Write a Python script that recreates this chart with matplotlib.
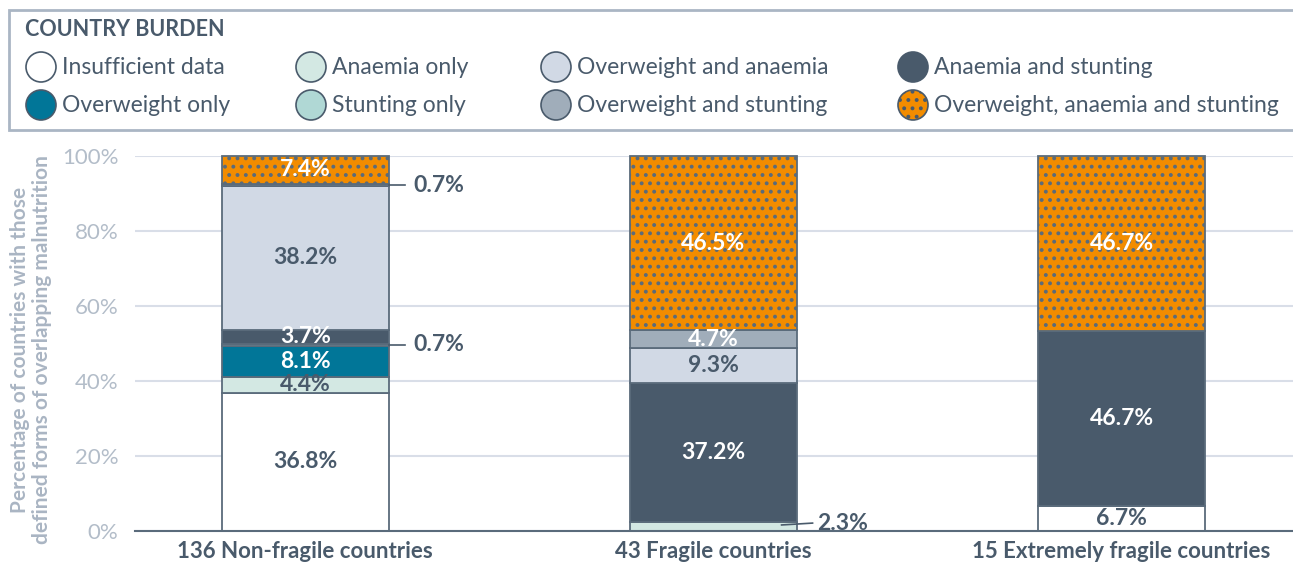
import matplotlib
matplotlib.use("Agg")
import matplotlib.pyplot as plt
from matplotlib.patches import Rectangle, Ellipse
import numpy as np

plt.rcParams['font.family'] = ['Lato', 'DejaVu Sans']
plt.rcParams['hatch.linewidth'] = 1.6

# data (percent of countries)
groups = ["136 Non-fragile countries", "43 Fragile countries", "15 Extremely fragile countries"]
categories = ["Insufficient data", "Anaemia only", "Overweight only", "Stunting only",
              "Anaemia and stunting", "Overweight and anaemia", "Overweight and stunting",
              "Overweight, anaemia and stunting"]
insufficient = [36.8, 0.0, 6.7]
anaemia_only = [4.4, 2.3, 0.0]
overweight_only = [8.1, 0.0, 0.0]
stunting_only = [0.7, 0.0, 0.0]
anaemia_stunting = [3.7, 37.2, 46.7]
overweight_anaemia = [38.2, 9.3, 0.0]
overweight_stunting = [0.7, 4.7, 0.0]
all_three = [7.4, 46.5, 46.7]

series = [insufficient, anaemia_only, overweight_only, stunting_only,
          anaemia_stunting, overweight_anaemia, overweight_stunting, all_three]
colors = ["#ffffff", "#d3e8e3", "#017698", "#b0d8d5",
          "#495a6b", "#d1d9e5", "#a0adba", "#f28c00"]
label_colors = ["#495a6b", "#495a6b", "#ffffff", "#495a6b",
                "#ffffff", "#495a6b", "#ffffff", "#ffffff"]

DARK = "#495a6b"
EDGE = "#5a6b7b"

fig = plt.figure(figsize=(12.93, 5.64), dpi=100)

# legend panel in pixel coordinates
lg = fig.add_axes([0, 0, 1, 1], zorder=0)
lg.set_xlim(0, 1293)
lg.set_ylim(564, 0)
lg.axis("off")
lg.add_patch(Rectangle((9, 10), 1300, 120, facecolor="white", edgecolor="#aab6c4", lw=2))
lg.text(25, 30, "COUNTRY BURDEN", fontsize=15.5, fontweight="bold", color=DARK, va="center")
leg_x = [41, 311, 556, 913]
leg_y = [67, 105]
legend_order = [0, 1, 5, 4, 2, 3, 6, 7]
for k, ci in enumerate(legend_order):
    col, row = k % 4, k // 4
    cx, cy = leg_x[col], leg_y[row]
    lg.add_patch(Ellipse((cx, cy), 30, 30, facecolor=colors[ci], edgecolor=DARK, lw=1.2,
                         hatch=".." if ci == 7 else None))
    lg.text(cx + 21, cy, categories[ci], fontsize=16.5, color=DARK, va="center")

ax = fig.add_axes([135 / 1293, 1 - 531 / 564, 1 - 135 / 1293, 375 / 564], zorder=1)
ax.patch.set_alpha(0)
x = np.arange(len(groups))
width = 0.41
bottom = np.zeros(len(groups))
for i, vals in enumerate(series):
    vals = np.array(vals)
    for j in range(len(groups)):
        if vals[j] <= 0:
            continue
        h = ".." if i == 7 else None
        ax.bar(x[j], vals[j], width, bottom=bottom[j], color=colors[i], edgecolor=EDGE,
               linewidth=1.3, hatch=h, zorder=3, clip_on=False)
        if vals[j] >= 2.5 and not (i == 1 and j == 1):
            ax.text(x[j], bottom[j] + vals[j] / 2, f"{vals[j]:.1f}%", ha="center", va="center",
                    fontsize=16.5, fontweight="bold", color=label_colors[i], zorder=5)
    bottom += vals

# small segments labelled outside
cum0 = np.cumsum([s[0] for s in series])
y_top = cum0[5] + overweight_stunting[0] / 2
y_mid = cum0[2] + stunting_only[0] / 2
for yy, val in [(y_top, overweight_stunting[0]), (y_mid, stunting_only[0])]:
    ax.plot([x[0] + width / 2, x[0] + 0.245], [yy, yy], color=DARK, lw=1.2, clip_on=False, zorder=4)
    ax.text(x[0] + 0.265, yy, f"{val:.1f}%", fontsize=16.5, fontweight="bold", color=DARK,
            va="center", ha="left")
y_a = anaemia_only[1] * 0.7
ax.plot([x[1] + 0.167, x[1] + 0.243], [y_a, y_a + 0.5], color=DARK, lw=1.2, zorder=4)
ax.text(x[1] + 0.255, y_a + 0.3, f"{anaemia_only[1]:.1f}%", fontsize=16.5, fontweight="bold",
        color=DARK, va="center", ha="left")

ax.set_xlim(-0.417, 2.42)
ax.set_ylim(0, 100)
ax.set_yticks([0, 20, 40, 60, 80, 100])
ax.set_yticklabels([f"{v}%" for v in [0, 20, 40, 60, 80, 100]], fontsize=16, color="#b3bdc9")
ax.yaxis.grid(True, color="#d9dee8", lw=1.5, zorder=0)
ax.set_axisbelow(True)
ax.tick_params(axis="y", length=0, pad=12)
ax.tick_params(axis="x", length=0, pad=7)
ax.set_xticks(x)
ax.set_xticklabels(groups, fontsize=16, fontweight="bold", color=DARK)
for s in ["top", "right", "left"]:
    ax.spines[s].set_visible(False)
ax.spines["bottom"].set_color(EDGE)
ax.spines["bottom"].set_linewidth(1.5)
ax.spines["bottom"].set_zorder(6)

fig.text(31 / 1293, 1 - 350 / 564,
         "Percentage of countries with those\ndefined forms of overlapping malnutrition",
         rotation=90, ha="center", va="center", fontsize=15, fontweight="bold",
         color="#aab5c3", linespacing=1.1)

fig.savefig("out.png", dpi=100)
